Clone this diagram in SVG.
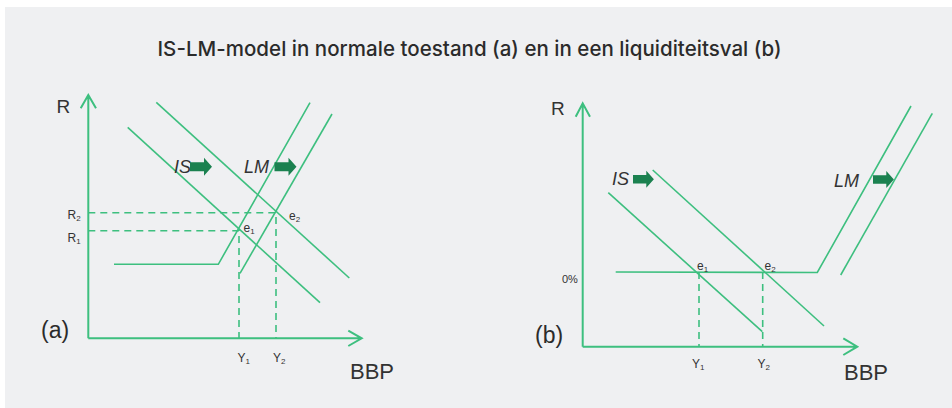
<svg xmlns="http://www.w3.org/2000/svg" width="952" height="408" viewBox="0 0 952 408">
<defs>
<style>
.ln{fill:none;stroke:#3dbf7f;stroke-width:1.6;stroke-linecap:butt}
.ax{fill:none;stroke:#3dbf7f;stroke-width:2;stroke-linejoin:miter}
.ds{fill:none;stroke:#3dbf7f;stroke-width:1.6;stroke-dasharray:7 5}
.t{font-family:"Liberation Sans",Arial,sans-serif;fill:#333}
.sm{font-size:12px}
.sub{font-size:8px}
.big{font-size:19px}
.it{font-style:italic;font-size:18px}
.pl{font-size:23px;fill:#2b2b2b}
.arr{fill:#1b8150}
</style>
<path id="arrA" d="M0,-4.5 H14 V-9 L22,0 L14,9 V4.5 H0 Z"/>
</defs>
<rect x="0" y="0" width="952" height="408" fill="#ffffff"/>
<rect x="5" y="7" width="947" height="401" fill="#eff0f2"/>
<text x="157.5" y="56" textLength="624" lengthAdjust="spacing" style="font-family:Inter,Roboto,'Liberation Sans',sans-serif;font-weight:500;font-size:20.5px;fill:#2b2b2b">IS-LM-model in normale toestand (a) en in een liquiditeitsval (b)</text>

<g id="panel-a">
<g id="axes-a">
<path class="ax" d="M88.3,338.3 V95 M80.7,108.3 L88.3,95 L96,108.3"/>
<path class="ax" d="M88.3,338.3 H361.7 M348.3,330.7 L361.7,338.3 L348.3,346"/>
<text class="t big" x="56.5" y="113.3">R</text>
<text class="t" x="350" y="378.5" style="font-size:22px">BBP</text>
<text class="t pl" x="41" y="338">(a)</text>
</g>
<g id="connectors-a">
<path class="ds" d="M88.3,212.7 H276 V338"/>
<path class="ds" d="M88.3,230.7 H239 V338"/>
</g>
<g id="IS1-a"><path class="ln" d="M127.7,127.3 L320,302.7"/></g>
<g id="IS2-a"><path class="ln" d="M156.3,102.3 L349.3,278"/></g>
<g id="LM1-a"><path class="ln" d="M114,264.3 H218.3 L310,102.7"/></g>
<g id="LM2-a"><path class="ln" d="M240,273.3 L332,114"/></g>
<g id="labels-a">
<text class="t sm" x="67.5" y="218.5">R<tspan class="sub" dy="2">2</tspan></text>
<text class="t sm" x="67.5" y="241.5">R<tspan class="sub" dy="2">1</tspan></text>
<text class="t sm" x="243.5" y="231.5">e<tspan class="sub" dy="2">1</tspan></text>
<text class="t sm" x="289" y="220">e<tspan class="sub" dy="2">2</tspan></text>
<text class="t sm" x="237.5" y="361.5">Y<tspan class="sub" dy="2">1</tspan></text>
<text class="t sm" x="273" y="361.5">Y<tspan class="sub" dy="2">2</tspan></text>
<text class="t it" x="174" y="172.5">IS</text>
<text class="t it" x="244" y="172.5">LM</text>
<use href="#arrA" class="arr" x="190" y="166.7"/>
<use href="#arrA" class="arr" x="274.5" y="166.7"/>
</g>
</g>

<g id="panel-b">
<g id="axes-b">
<path class="ax" d="M582.7,346.7 V103.3 M575.7,116.7 L582.7,103.3 L590,116.7"/>
<path class="ax" d="M582.7,346.7 H857.3 M843.3,338.3 L857.3,346.7 L843.3,355"/>
<text class="t big" x="551" y="115">R</text>
<text class="t" x="844" y="380" style="font-size:22px">BBP</text>
<text class="t pl" x="535" y="343">(b)</text>
</g>
<g id="connectors-b">
<path class="ds" d="M699,272 V346.7"/>
<path class="ds" d="M762.7,272 V346.7"/>
</g>
<g id="IS1-b"><path class="ln" d="M608.3,192.7 L762.3,331.7"/></g>
<g id="IS2-b"><path class="ln" d="M652.7,170 L824,326"/></g>
<g id="LM1-b"><path class="ln" d="M615.7,272 L817.3,272.5 L911,106"/></g>
<g id="LM2-b"><path class="ln" d="M840.7,275 L932.3,113.3"/></g>
<g id="labels-b">
<text class="t" x="562" y="282.5" style="font-size:11px">0%</text>
<text class="t sm" x="697" y="270">e<tspan class="sub" dy="2">1</tspan></text>
<text class="t sm" x="764.5" y="270">e<tspan class="sub" dy="2">2</tspan></text>
<text class="t sm" x="692" y="368">Y<tspan class="sub" dy="2">1</tspan></text>
<text class="t sm" x="757.5" y="368">Y<tspan class="sub" dy="2">2</tspan></text>
<text class="t it" x="612" y="185">IS</text>
<text class="t it" x="834" y="186.5">LM</text>
<use href="#arrA" class="arr" x="633" y="179.3" transform="translate(633,179.3) scale(0.95) translate(-633,-179.3)"/>
<use href="#arrA" class="arr" x="873" y="179.5" transform="translate(873,179.5) scale(0.95) translate(-873,-179.5)"/>
</g>
</g>
</svg>
